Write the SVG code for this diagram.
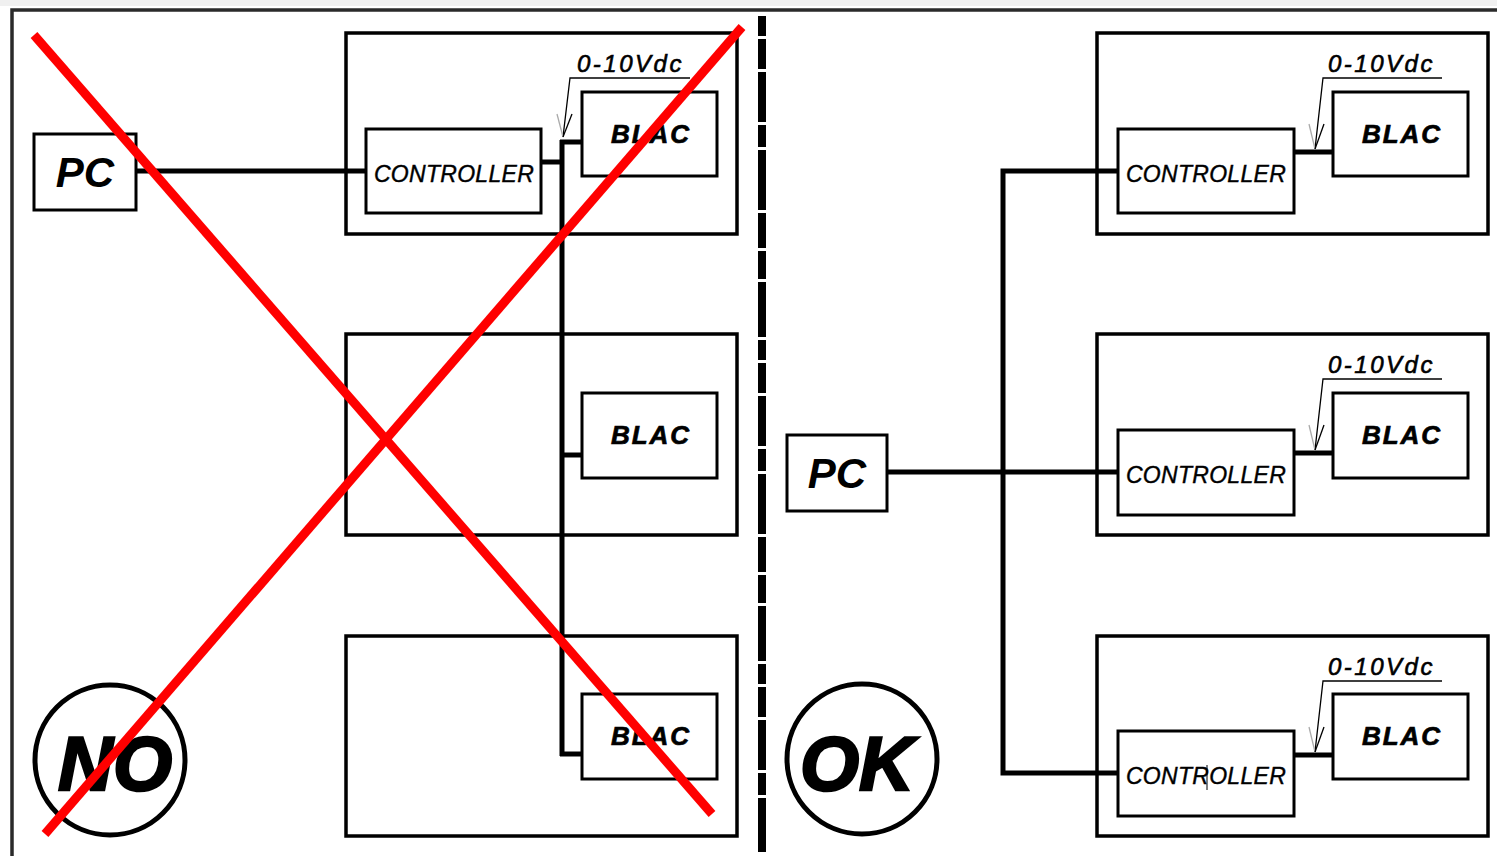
<svg xmlns="http://www.w3.org/2000/svg" width="1497" height="856" viewBox="0 0 1497 856">
<defs>
<style>
.frame{fill:none;stroke:#2a2a2a;stroke-width:3.5}
.box{fill:#fff;stroke:#000;stroke-width:3}
.unit{fill:none;stroke:#000;stroke-width:3.5}
.wire{fill:none;stroke:#000;stroke-width:5}
.thin{fill:none;stroke:#000;stroke-width:1.3}
.gray{fill:none;stroke:#aaa;stroke-width:1.3}
.red{fill:none;stroke:#ff0000;stroke-width:9}
.pc{font-family:"Liberation Sans",Arial,sans-serif;font-weight:bold;font-style:italic;font-size:42px;text-anchor:middle;fill:#000}
.ctl{font-family:"Liberation Sans",Arial,sans-serif;font-style:italic;font-size:23px;letter-spacing:0.3px;text-anchor:middle;fill:#000;stroke:#000;stroke-width:0.4}
.blac{font-family:"Liberation Sans",Arial,sans-serif;font-weight:bold;font-style:italic;font-size:26px;letter-spacing:2px;text-anchor:middle;fill:#000;stroke:#000;stroke-width:0.7}
.volt{font-family:"Liberation Sans",Arial,sans-serif;font-style:italic;font-size:24px;letter-spacing:2.5px;fill:#000;stroke:#000;stroke-width:0.6}
.big{font-family:"Liberation Sans",Arial,sans-serif;font-weight:bold;font-style:italic;font-size:76px;text-anchor:middle;fill:#000;stroke:#000;stroke-width:2.5}
.ring{fill:#fff;stroke:#000;stroke-width:5}
</style>
</defs>
<rect x="0" y="0" width="1497" height="856" fill="#fff"/>
<rect x="0" y="0" width="1497" height="6" fill="#f0f0f0"/>
<path class="frame" d="M12 856 V10 H1497"/>

<!-- divider -->
<line x1="762" y1="16" x2="762" y2="852" stroke="#000" stroke-width="8" stroke-dasharray="20 3 30 3 50 3 22 3 60 3 35 3 28 3 55 3" stroke-linecap="butt"/>

<!-- LEFT side -->
<g id="left-unit1">
<rect class="unit" x="346" y="33" width="391" height="201"/>
</g>
<g id="left-unit2">
<rect class="unit" x="346" y="334" width="391" height="201"/>
</g>
<g id="left-unit3">
<rect class="unit" x="346" y="636" width="391" height="200"/>
</g>

<g id="connectors">
<!-- left -->
<line class="wire" x1="136" y1="171" x2="366" y2="171"/>
<line class="wire" x1="541" y1="162" x2="562" y2="162"/>
<line class="wire" x1="562" y1="140" x2="562" y2="756"/>
<line class="wire" x1="560" y1="142" x2="582" y2="142"/>
<line class="wire" x1="560" y1="455" x2="582" y2="455"/>
<line class="wire" x1="560" y1="754" x2="582" y2="754"/>
<!-- right -->
<line class="wire" x1="887" y1="472" x2="1118" y2="472"/>
<path class="wire" d="M1118 171 H1003 V773 H1118"/>
<line class="wire" x1="1294" y1="152" x2="1333" y2="152"/>
<line class="wire" x1="1294" y1="453" x2="1333" y2="453"/>
<line class="wire" x1="1294" y1="755" x2="1333" y2="755"/>
</g>

<g id="left-pc">
<rect class="box" x="34" y="134" width="102" height="76"/>
<text class="pc" x="85" y="187">PC</text>
</g>
<g id="left-controller">
<rect class="box" x="366" y="129" width="175" height="84"/>
<text class="ctl" x="454" y="182">CONTROLLER</text>
</g>
<g id="left-blac1">
<rect class="box" x="582" y="92" width="135" height="84"/>
<text class="blac" x="651" y="143">BLAC</text>
</g>
<g id="left-blac2">
<rect class="box" x="582" y="393" width="135" height="85"/>
<text class="blac" x="651" y="444">BLAC</text>
</g>
<g id="left-blac3">
<rect class="box" x="582" y="694" width="135" height="85"/>
<text class="blac" x="651" y="745">BLAC</text>
</g>
<g id="left-label">
<text class="volt" x="577" y="72">0-10Vdc</text>
<path class="thin" d="M690 78 H570 L563 137"/>
<line class="gray" x1="557" y1="114" x2="563" y2="137"/>
<line class="thin" x1="572" y1="114" x2="563" y2="137"/>
</g>
<g id="no-badge">
<circle class="ring" cx="110" cy="760" r="75"/>
<text class="big" x="115" y="790">NO</text>
</g>

<!-- RIGHT side -->
<g id="right-unit1">
<rect class="unit" x="1097" y="33" width="391" height="201"/>
<rect class="box" x="1118" y="129" width="176" height="84"/>
<text class="ctl" x="1206" y="182">CONTROLLER</text>
<rect class="box" x="1333" y="92" width="135" height="84"/>
<text class="blac" x="1402" y="143">BLAC</text>
<text class="volt" x="1328" y="72">0-10Vdc</text>
<path class="thin" d="M1442 78 H1323 L1315 149"/>
<line class="gray" x1="1309" y1="124" x2="1315" y2="149"/>
<line class="thin" x1="1324" y1="124" x2="1315" y2="149"/>
</g>
<g id="right-unit2">
<rect class="unit" x="1097" y="334" width="391" height="201"/>
<rect class="box" x="1118" y="430" width="176" height="85"/>
<text class="ctl" x="1206" y="483">CONTROLLER</text>
<rect class="box" x="1333" y="393" width="135" height="85"/>
<text class="blac" x="1402" y="444">BLAC</text>
<text class="volt" x="1328" y="373">0-10Vdc</text>
<path class="thin" d="M1442 379 H1323 L1315 450"/>
<line class="gray" x1="1309" y1="425" x2="1315" y2="450"/>
<line class="thin" x1="1324" y1="425" x2="1315" y2="450"/>
</g>
<g id="right-unit3">
<rect class="unit" x="1097" y="636" width="391" height="200"/>
<rect class="box" x="1118" y="731" width="176" height="85"/>
<text class="ctl" x="1206" y="784">CONTROLLER</text>
<line x1="1207" y1="765" x2="1207" y2="790" stroke="#000" stroke-width="1"/>
<rect class="box" x="1333" y="694" width="135" height="85"/>
<text class="blac" x="1402" y="745">BLAC</text>
<text class="volt" x="1328" y="675">0-10Vdc</text>
<path class="thin" d="M1442 681 H1323 L1315 752"/>
<line class="gray" x1="1309" y1="727" x2="1315" y2="752"/>
<line class="thin" x1="1324" y1="727" x2="1315" y2="752"/>
</g>
<g id="right-pc">
<rect class="box" x="787" y="435" width="100" height="76"/>
<text class="pc" x="837" y="488">PC</text>
</g>
<g id="ok-badge">
<circle class="ring" cx="862" cy="759" r="75"/>
<text class="big" x="857" y="790">OK</text>
</g>

<!-- red cross -->
<g id="red-cross">
<line class="red" x1="34" y1="35" x2="712" y2="814"/>
<line class="red" x1="742" y1="27" x2="45" y2="834"/>
</g>
</svg>
